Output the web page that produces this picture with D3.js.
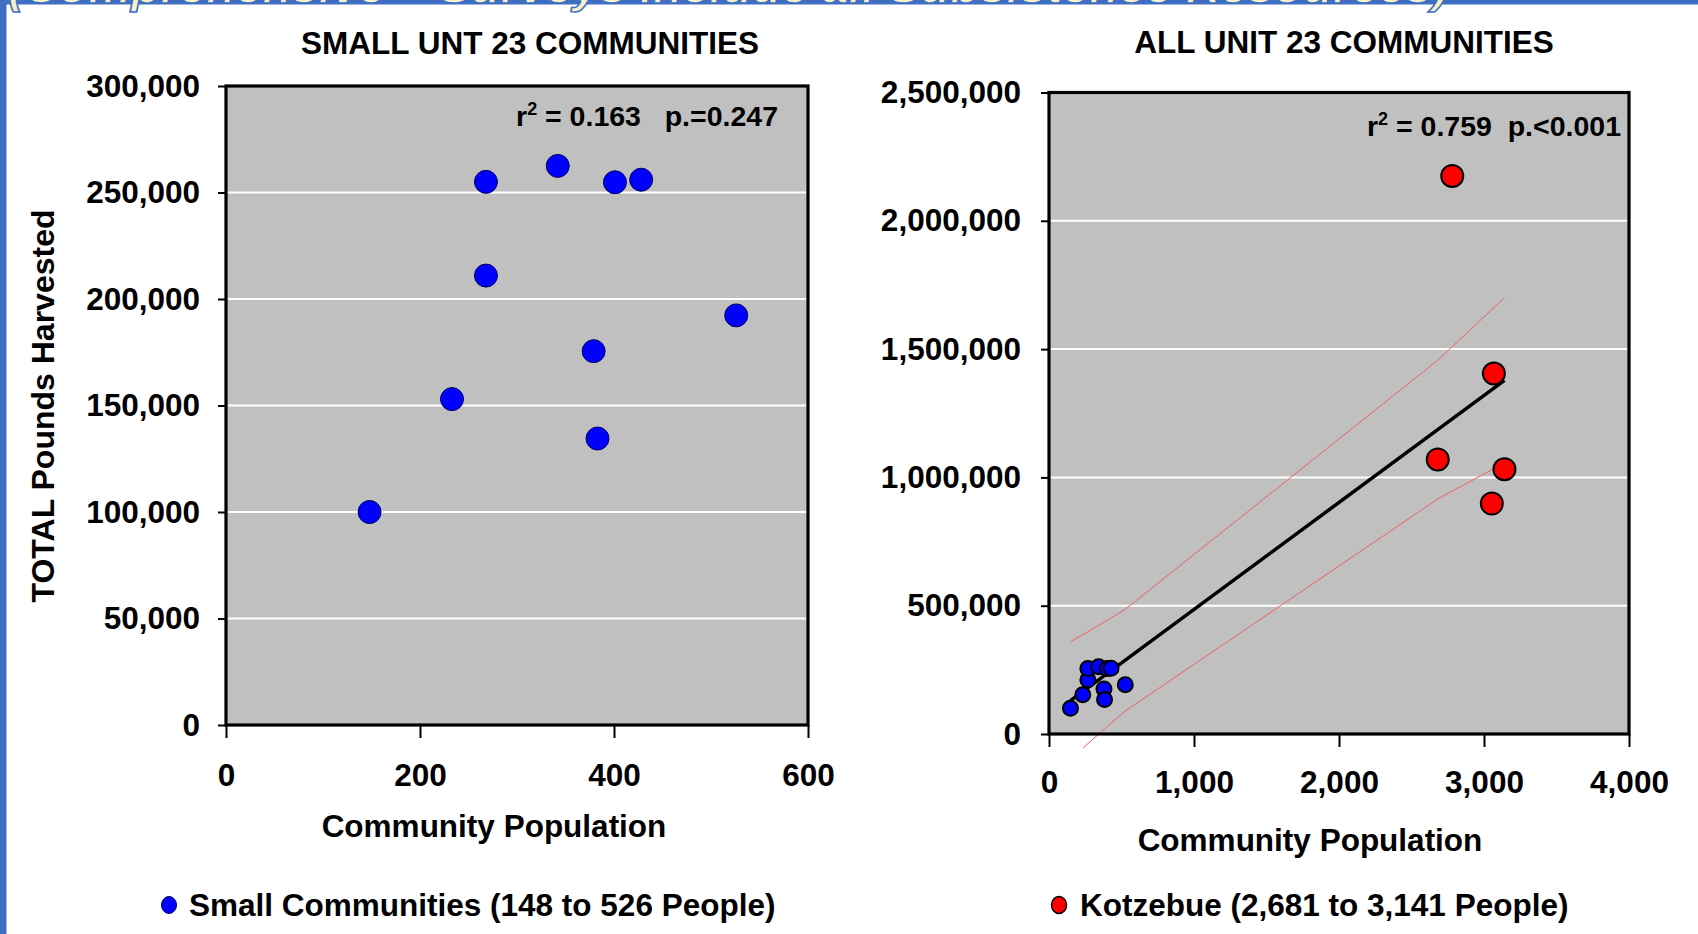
<!DOCTYPE html>
<html>
<head>
<meta charset="utf-8">
<script src="https://cdn.jsdelivr.net/npm/d3@7/dist/d3.min.js"></script>
<style>
  html, body { margin: 0; padding: 0; background: #ffffff; }
  svg { display: block; }
  text { font-family: "Liberation Sans", Arial, sans-serif; font-weight: bold; fill: #000; }
</style>
</head>
<body>
<svg id="chart" width="1698" height="934"></svg>
<script>
// ---------------- DATA ----------------
const headerText = "(Comprehensive \u2013 Surveys Include all Subsistence Resources)";
const leftTitle = "SMALL UNT 23 COMMUNITIES";
const rightTitle = "ALL UNIT 23 COMMUNITIES";
const yAxisTitle = "TOTAL Pounds Harvested";
const xAxisTitle = "Community Population";
const smallLegend = "Small Communities (148 to 526 People)";
const kotzLegend = "Kotzebue (2,681 to 3,141 People)";
const leftStats = ["0.163", "p.=0.247"];
const rightStats = ["0.759", "p.<0.001"];

const smallPop = [148, 233, 268, 268, 342, 379, 383, 401, 428, 526];
const smallHarvest = [100000, 153000, 211000, 255000, 262500, 175500, 134500, 254800, 256000, 192300];
const kotzPop = [2781, 3068, 2681, 3141, 3054];
const kotzHarvest = [2175000, 1405000, 1070000, 1032000, 898000];

const leftXTicks = [0, 200, 400, 600];
const leftYTicks = [0, 50000, 100000, 150000, 200000, 250000, 300000];
const rightXTicks = [0, 1000, 2000, 3000, 4000];
const rightYTicks = [0, 500000, 1000000, 1500000, 2000000, 2500000];
const tCrit = 2.160; // t(0.975, df = 13) for the 95% confidence band

// ---------------- SETUP ----------------
const svg = d3.select("#chart");
const fmt = d3.format(",");
const BLUE_BAND = "#3F6FC2";
const FS = 31.5;

// header strip (clipped slide title, only its lower edge visible) and left bar
svg.append("rect").attr("x", 0).attr("y", 0).attr("width", 1698).attr("height", 4.5).attr("fill", BLUE_BAND);
svg.append("text").attr("x", 8).attr("y", 3)
  .attr("textLength", 1440).attr("lengthAdjust", "spacingAndGlyphs")
  .style("font-size", "44px").style("font-style", "italic")
  .style("fill", "#F6F1C9").style("stroke", BLUE_BAND).style("stroke-width", 1.5)
  .text(headerText);
svg.append("rect").attr("x", 0).attr("y", 0).attr("width", 6.5).attr("height", 934).attr("fill", BLUE_BAND);

function drawPanel(cfg) {
  const x = d3.scaleLinear().domain(cfg.xDomain).range(cfg.xRange);
  const y = d3.scaleLinear().domain(cfg.yDomain).range(cfg.yRange);
  const g = svg.append("g");
  const [x0, x1] = cfg.xRange, [y0, y1] = cfg.yRange; // y0 bottom, y1 top

  g.append("rect").attr("x", x0).attr("y", y1).attr("width", x1 - x0).attr("height", y0 - y1)
    .attr("fill", "#C0C0C0");

  // gridlines
  g.selectAll("line.grid").data(cfg.yTicks.slice(1, -1)).join("line")
    .attr("x1", x0 + 1.5).attr("x2", x1 - 1.5)
    .attr("y1", d => y(d)).attr("y2", d => y(d))
    .attr("stroke", "#ffffff").attr("stroke-width", 2);

  // axes
  const ya = g.append("g").attr("transform", `translate(${x0},0)`)
    .call(d3.axisLeft(y).tickValues(cfg.yTicks).tickFormat(fmt).tickSize(8).tickPadding(cfg.yPad));
  const xa = g.append("g").attr("transform", `translate(0,${y0})`)
    .call(d3.axisBottom(x).tickValues(cfg.xTicks).tickFormat(fmt).tickSize(13).tickPadding(cfg.xPad));
  [ya, xa].forEach(a => {
    a.select(".domain").remove();
    a.selectAll(".tick line").attr("stroke", "#000").attr("stroke-width", 2);
    a.selectAll(".tick text").style("font-size", FS + "px").style("font-family", '"Liberation Sans", Arial, sans-serif')
      .style("font-weight", "bold").attr("fill", "#000");
  });

  cfg.extra && cfg.extra(g, x, y);

  // points
  cfg.series.forEach(s => {
    g.selectAll(null).data(s.xs.map((v, i) => [v, s.ys[i]])).join("circle")
      .attr("cx", d => x(d[0])).attr("cy", d => y(d[1])).attr("r", s.r)
      .attr("fill", s.fill).attr("stroke", s.stroke).attr("stroke-width", s.sw);
  });

  // border
  g.append("rect").attr("x", x0).attr("y", y1).attr("width", x1 - x0).attr("height", y0 - y1)
    .attr("fill", "none").attr("stroke", "#000").attr("stroke-width", 3.2);

  // title
  svg.append("text").attr("x", cfg.titleX).attr("y", cfg.titleY).attr("text-anchor", "middle")
    .style("font-size", FS + "px").text(cfg.title);
  // x axis title
  svg.append("text").attr("x", cfg.xTitleX).attr("y", cfg.xTitleY).attr("text-anchor", "middle")
    .style("font-size", FS + "px").text(xAxisTitle);
  // stats
  const st = svg.append("text").attr("x", cfg.statsX).attr("y", cfg.statsY).attr("text-anchor", "end")
    .style("font-size", "28.5px");
  st.append("tspan").text("r");
  st.append("tspan").attr("dy", -11).style("font-size", "18px").text("2");
  st.append("tspan").attr("dy", 11).text(" = " + cfg.stats[0] + cfg.gap + cfg.stats[1]);
}

// left panel
drawPanel({
  xDomain: [0, 600], xRange: [226, 808], yDomain: [0, 300000], yRange: [725, 86],
  xTicks: leftXTicks, yTicks: leftYTicks, yPad: 18, xPad: 26,
  title: leftTitle, titleX: 530, titleY: 54, xTitleX: 494, xTitleY: 837,
  stats: leftStats, statsX: 778, statsY: 126, gap: "\u00a0\u00a0\u00a0",
  series: [{ xs: smallPop, ys: smallHarvest, r: 11.5, fill: "#0000FF", stroke: "#00005A", sw: 1 }]
});

// right panel with regression + 95% confidence band
const allPop = smallPop.concat(kotzPop);
const allHarvest = smallHarvest.concat(kotzHarvest);
drawPanel({
  xDomain: [0, 4000], xRange: [1049, 1629], yDomain: [0, 2500000], yRange: [734, 92.5],
  xTicks: rightXTicks, yTicks: rightYTicks, yPad: 20, xPad: 24,
  title: rightTitle, titleX: 1344, titleY: 53, xTitleX: 1310, xTitleY: 851,
  stats: rightStats, statsX: 1621, statsY: 136, gap: "\u00a0\u00a0",
  series: [
    { xs: smallPop, ys: smallHarvest, r: 7.5, fill: "#0000FF", stroke: "#000", sw: 2 },
    { xs: kotzPop, ys: kotzHarvest, r: 11, fill: "#FF0000", stroke: "#000", sw: 2 }
  ],
  extra: (g, x, y) => {
    const n = allPop.length;
    const mx = d3.mean(allPop), my = d3.mean(allHarvest);
    let sxx = 0, sxy = 0;
    allPop.forEach((v, i) => { sxx += (v - mx) ** 2; sxy += (v - mx) * (allHarvest[i] - my); });
    const b = sxy / sxx, a = my - b * mx;
    let sse = 0;
    allPop.forEach((v, i) => { sse += (allHarvest[i] - (a + b * v)) ** 2; });
    const s = Math.sqrt(sse / (n - 2));
    const xs = Array.from(new Set(allPop)).sort((p, q) => p - q);
    const half = v => tCrit * s * Math.sqrt(1 / n + (v - mx) ** 2 / sxx);
    const line = d3.line().x(d => x(d[0])).y(d => y(d[1]));

    svg.append("clipPath").attr("id", "bandClip").append("rect")
      .attr("x", 1049).attr("y", 92).attr("width", 580).attr("height", 656);
    const bands = g.append("g").attr("clip-path", "url(#bandClip)");
    bands.append("path").datum(xs.map(v => [v, a + b * v + half(v)])).attr("d", line)
      .attr("fill", "none").attr("stroke", "#F06060").attr("stroke-width", 1);
    bands.append("path").datum(xs.map(v => [v, a + b * v - half(v)])).attr("d", line)
      .attr("fill", "none").attr("stroke", "#F06060").attr("stroke-width", 1);
    g.append("path").datum([xs[0], xs[xs.length - 1]].map(v => [v, a + b * v])).attr("d", line)
      .attr("fill", "none").attr("stroke", "#000").attr("stroke-width", 3.5);
  }
});

// y axis title
svg.append("text").attr("transform", "translate(54,406) rotate(-90)").attr("text-anchor", "middle")
  .style("font-size", "32px").text(yAxisTitle);

// legends
svg.append("ellipse").attr("cx", 169).attr("cy", 905).attr("rx", 7.5).attr("ry", 8.5)
  .attr("fill", "#0000FF").attr("stroke", "#00005A").attr("stroke-width", 1);
svg.append("text").attr("x", 189).attr("y", 916).style("font-size", FS + "px").text(smallLegend);
svg.append("ellipse").attr("cx", 1059).attr("cy", 905).attr("rx", 7.5).attr("ry", 8.5)
  .attr("fill", "#FF0000").attr("stroke", "#000").attr("stroke-width", 1.5);
svg.append("text").attr("x", 1080).attr("y", 916).style("font-size", FS + "px").text(kotzLegend);
</script>
</body>
</html>
